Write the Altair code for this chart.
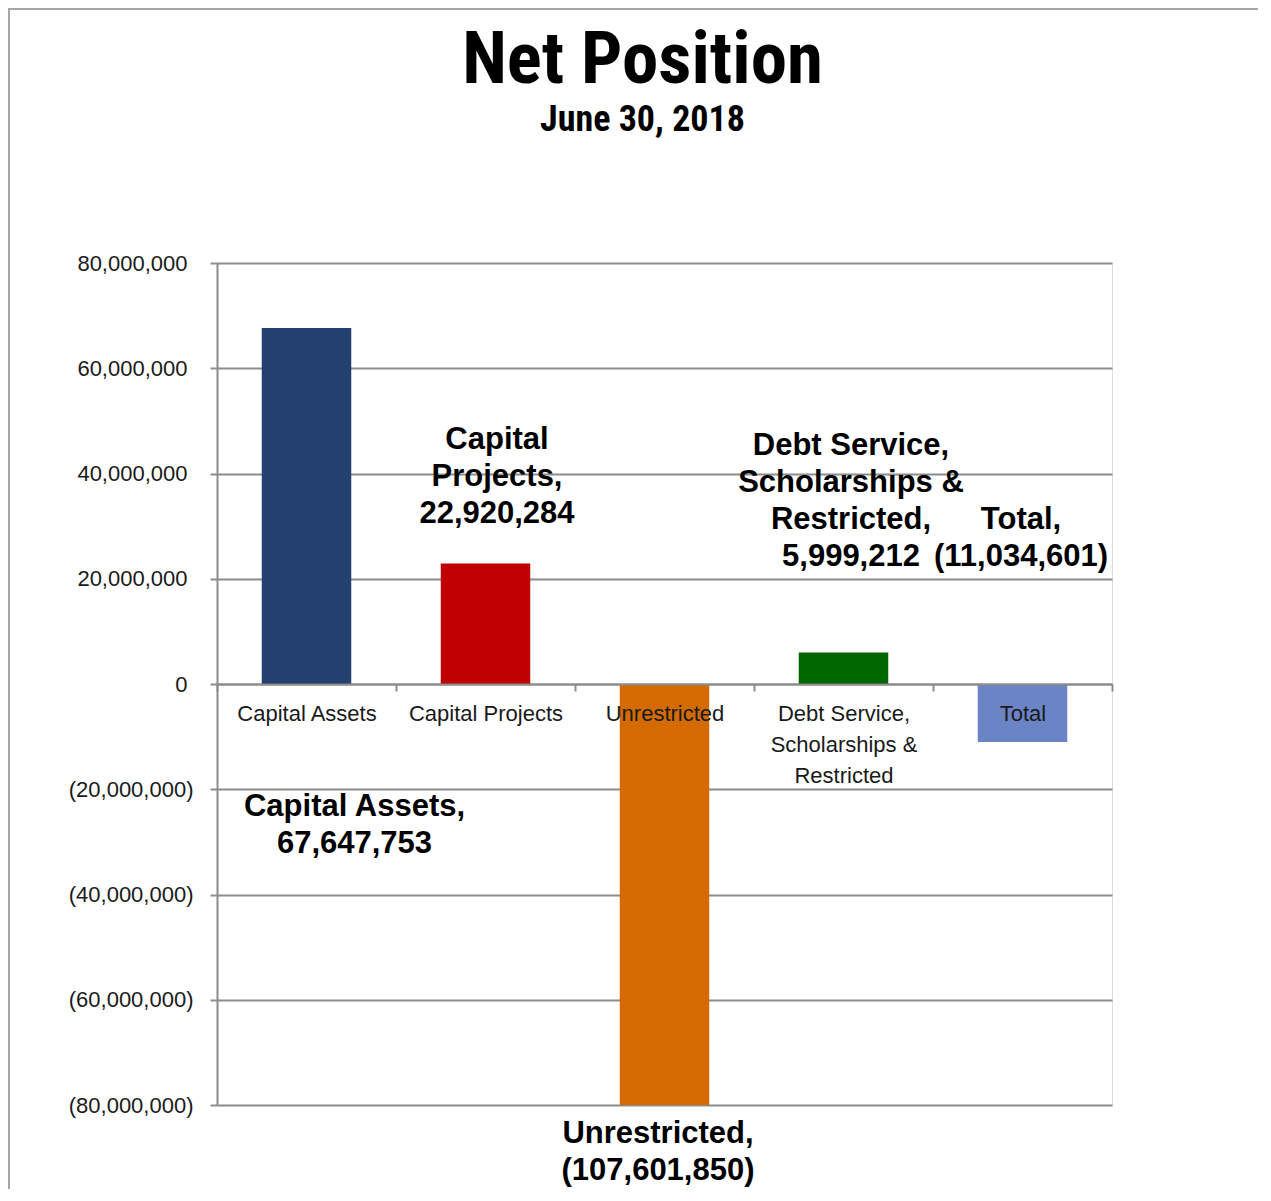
import altair as alt
import pandas as pd

# ---- data ----
categories = ["Capital Assets", "Capital Projects", "Unrestricted",
              "Debt Service,|Scholarships &|Restricted", "Total"]
values = [67647753, 22920284, -107601850, 5999212, -11034601]
label_names = ["Capital Assets,", "Capital|Projects,", "Unrestricted,",
               "Debt Service,|Scholarships &|Restricted,", "Total,"]
y_ticks = [-80000000, -60000000, -40000000, -20000000, 0,
           20000000, 40000000, 60000000, 80000000]

# ---- style / layout ----
bar_colors = ["#24406E", "#C00000", "#D46B00", "#006600", "#6B84C6"]
label_y = [-23.37e6, 46.37e6, -85.5e6, 45.16e6, 31.1e6]   # first-line anchors (data units)
label_dx = [48, 11.5, -6.5, 7.5, -1.5]                     # label nudges (px)

def fmt(v):
    return f"({-v:,})" if v < 0 else f"{v:,}"

df = pd.DataFrame({
    "category": categories,
    "value": values,
    "label": [n + "|" + fmt(v) for n, v in zip(label_names, values)],
    "label_y": label_y,
})

W, H = 895, 842
GRAY = "#8c8c8c"
FONT = "Liberation Sans"
NARROW = ("'Liberation Sans Narrow', 'Arial Narrow', 'Roboto Condensed', "
          "'Noto Sans Condensed', 'Open Sans Condensed', 'DejaVu Sans Condensed', sans-serif")

x_axis = alt.Axis(
    title=None, orient="bottom", offset=-H / 2,
    labelExpr="split(datum.label, '|')", labelAngle=0,
    labelFontSize=22, labelFont=FONT, labelColor="#1a1a1a",
    labelPadding=12, labelLineHeight=31, labelLimit=400,
    tickBand="extent", tickSize=7, tickColor=GRAY, tickWidth=2,
    domainColor=GRAY, domainWidth=2, grid=False, zindex=1,
)
y_axis = alt.Axis(
    title=None, values=y_ticks,
    labelExpr="datum.value < 0 ? '(' + format(-datum.value, ',') + ')' : format(datum.value, ',')",
    labelFontSize=22, labelFont=FONT, labelColor="#1a1a1a",
    labelPadding={"condition": {"test": "datum.value >= 0", "value": 23}, "value": 17},
    tickSize=7, tickColor=GRAY, tickWidth=2,
    domainColor=GRAY, domainWidth=2,
    grid=True, gridColor=GRAY, gridWidth=2, zindex=0,
)

x_enc = alt.X("category:N", sort=categories,
              scale=alt.Scale(paddingInner=0, paddingOuter=0), axis=x_axis)
y_scale = alt.Scale(domain=[-80000000, 80000000], nice=False)

bars = alt.Chart(df).mark_bar(clip=True, width=alt.RelativeBandSize(0.5)).encode(
    x=x_enc,
    y=alt.Y("value:Q", scale=y_scale, axis=y_axis),
    color=alt.Color("category:N", scale=alt.Scale(domain=categories, range=bar_colors),
                    legend=None),
)

label_layers = []
for i, cat in enumerate(categories):
    label_layers.append(
        alt.Chart(df).transform_filter(alt.datum.category == cat).mark_text(
            dx=label_dx[i], fontSize=31, fontWeight="bold", font=FONT,
            lineBreak="|", lineHeight=37, baseline="middle", align="center",
            color="black",
        ).encode(
            x=x_enc,
            y=alt.Y("label_y:Q", scale=y_scale, axis=y_axis),
            text="label:N",
        )
    )

frame = alt.Chart(pd.DataFrame({"f": [0]})).mark_rect(
    filled=False, stroke="#a6a6a6", strokeWidth=2
).encode(
    x=alt.value(-208), x2=alt.value(1200),
    y=alt.value(-254), y2=alt.value(1200),
)

chart = alt.layer(frame, bars, *label_layers).properties(
    width=W, height=H,
    title=alt.TitleParams(
        "Net Position", subtitle="June 30, 2018",
        font=NARROW, fontSize=73, fontWeight="bold", color="black",
        subtitleFont=NARROW, subtitleFontSize=36, subtitleFontWeight="bold",
        subtitleColor="black", subtitlePadding=5,
        anchor="middle", frame="group", dx=-22, offset=-130,
    ),
    autosize=alt.AutoSizeParams(type="none"),
    padding={"left": 209, "top": 255, "right": 146, "bottom": 84},
).configure_view(stroke=None).configure(background="white")

chart.save("out.html", embed_options={"renderer": "svg", "actions": False})
